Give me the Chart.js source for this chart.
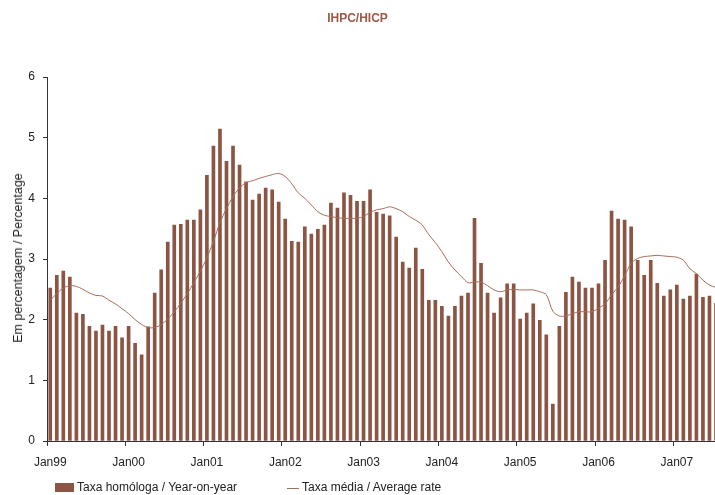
<!DOCTYPE html>
<html>
<head>
<meta charset="utf-8">
<script src="https://cdn.jsdelivr.net/npm/chart.js@4"></script>
<style>
  html, body { margin:0; padding:0; background:#fff; overflow:hidden; }
  #wrap { position:relative; width:715px; height:495px; overflow:hidden; font-family:"Liberation Sans", Arial, sans-serif; }
  #c { position:absolute; left:0; top:0; }
  #title { position:absolute; left:0; width:715px; top:11px; text-align:center; font-weight:bold; font-size:12px; color:#9b5a48; }
  #ylab { position:absolute; left:18px; top:258px; transform:translate(-50%,-50%) rotate(-90deg); white-space:nowrap; font-size:12.5px; color:#222; }
  .leg { position:absolute; top:480px; font-size:12px; color:#222; white-space:nowrap; }
  .sw { position:absolute; }
</style>
</head>
<body>
<div id="wrap">
  <canvas id="c" width="725" height="495"></canvas>
  <div id="title">IHPC/HICP</div>
  <div id="ylab">Em percentagem / Percentage</div>
  <div class="sw" style="left:55px;top:483px;width:19px;height:9px;background:#8c5443;"></div>
  <div class="leg" style="left:77px;">Taxa homóloga / Year-on-year</div>
  <div class="sw" style="left:287px;top:488px;width:12px;height:1px;background:#a66d5d;"></div>
  <div class="leg" style="left:302px;">Taxa média / Average rate</div>
</div>
<script>
const categories = [
 "Jan99","Feb99","Mar99","Apr99","May99","Jun99","Jul99","Aug99","Sep99","Oct99","Nov99","Dec99",
 "Jan00","Feb00","Mar00","Apr00","May00","Jun00","Jul00","Aug00","Sep00","Oct00","Nov00","Dec00",
 "Jan01","Feb01","Mar01","Apr01","May01","Jun01","Jul01","Aug01","Sep01","Oct01","Nov01","Dec01",
 "Jan02","Feb02","Mar02","Apr02","May02","Jun02","Jul02","Aug02","Sep02","Oct02","Nov02","Dec02",
 "Jan03","Feb03","Mar03","Apr03","May03","Jun03","Jul03","Aug03","Sep03","Oct03","Nov03","Dec03",
 "Jan04","Feb04","Mar04","Apr04","May04","Jun04","Jul04","Aug04","Sep04","Oct04","Nov04","Dec04",
 "Jan05","Feb05","Mar05","Apr05","May05","Jun05","Jul05","Aug05","Sep05","Oct05","Nov05","Dec05",
 "Jan06","Feb06","Mar06","Apr06","May06","Jun06","Jul06","Aug06","Sep06","Oct06","Nov06","Dec06",
 "Jan07","Feb07","Mar07","Apr07","May07","Jun07","Jul07"
];
const tickLabels = ["Jan99","Jan00","Jan01","Jan02","Jan03","Jan04","Jan05","Jan06","Jan07"];
const yearOnYear = [
 2.52,2.73,2.80,2.70,2.11,2.09,1.89,1.81,1.91,1.81,1.89,1.70,
 1.89,1.61,1.42,1.88,2.44,2.82,3.28,3.56,3.57,3.64,3.64,3.81,
 4.38,4.86,5.14,4.61,4.86,4.55,4.27,3.97,4.07,4.17,4.14,3.94,
 3.66,3.29,3.28,3.53,3.41,3.49,3.56,3.92,3.84,4.09,4.05,3.95,
 3.95,4.14,3.77,3.74,3.71,3.36,2.95,2.85,3.18,2.83,2.32,2.32,
 2.22,2.06,2.22,2.39,2.44,3.67,2.93,2.44,2.11,2.36,2.59,2.59,
 2.01,2.11,2.26,1.99,1.75,0.61,1.89,2.45,2.70,2.62,2.52,2.52,
 2.59,2.98,3.79,3.66,3.64,3.53,2.98,2.73,2.98,2.60,2.39,2.49,
 2.57,2.34,2.39,2.75,2.37,2.39,2.27
];
const averageRate = [
 2.32,2.43,2.52,2.56,2.55,2.50,2.44,2.40,2.39,2.32,2.26,2.18,
 2.10,2.00,1.92,1.87,1.87,1.92,2.01,2.13,2.27,2.43,2.61,2.80,
 3.02,3.29,3.60,3.83,4.03,4.17,4.26,4.29,4.33,4.36,4.39,4.41,
 4.36,4.24,4.09,4.00,3.89,3.78,3.72,3.70,3.68,3.67,3.67,3.67,
 3.70,3.77,3.81,3.83,3.86,3.83,3.78,3.70,3.64,3.56,3.40,3.27,
 3.12,2.95,2.82,2.71,2.61,2.62,2.62,2.56,2.49,2.46,2.49,2.50,
 2.49,2.49,2.49,2.46,2.41,2.14,2.06,2.06,2.10,2.13,2.13,2.13,
 2.19,2.26,2.41,2.54,2.72,2.93,3.01,3.04,3.05,3.06,3.05,3.04,
 3.03,2.98,2.84,2.76,2.65,2.57,2.53
];

const axisColor = '#333';
const fontSpec = { family: '"Liberation Sans", Arial, sans-serif', size: 12 };

new Chart(document.getElementById('c'), {
  data: {
    labels: categories,
    datasets: [
      { type: 'line', label: 'Taxa média / Average rate', data: averageRate,
        borderColor: '#a66d5d', borderWidth: 1, pointRadius: 0, tension: 0.3, order: 0 },
      { type: 'bar', label: 'Taxa homóloga / Year-on-year', data: yearOnYear,
        backgroundColor: '#8c5443', barThickness: 3, order: 1 }
    ]
  },
  options: {
    responsive: false,
    animation: false,
    devicePixelRatio: 1,
    layout: { padding: { left: 0, right: 0, top: 77, bottom: 29 } },
    plugins: { legend: { display: false }, tooltip: { enabled: false }, title: { display: false } },
    scales: {
      x: {
        type: 'category',
        offset: true,
        grid: {
          offset: true,
          drawOnChartArea: false,
          drawTicks: true,
          tickLength: 5,
          color: ctx => (ctx.index % 12 === 0 ? axisColor : 'rgba(0,0,0,0)')
        },
        border: { display: true, color: axisColor, width: 1 },
        ticks: {
          autoSkip: false, maxRotation: 0, minRotation: 0, padding: 9,
          color: '#222', font: fontSpec,
          callback: function(v, i) { const l = this.getLabelForValue(v); return tickLabels.includes(l) ? l : ''; }
        },
        afterFit: s => { s.height = 25; }
      },
      y: {
        min: 0, max: 6,
        ticks: { stepSize: 1, color: '#222', font: fontSpec, padding: 8 },
        grid: { drawOnChartArea: false, drawTicks: true, tickLength: 4, color: axisColor },
        border: { display: true, color: axisColor, width: 1 },
        afterFit: s => { s.width = 47; }
      }
    }
  }
});
</script>
</body>
</html>
